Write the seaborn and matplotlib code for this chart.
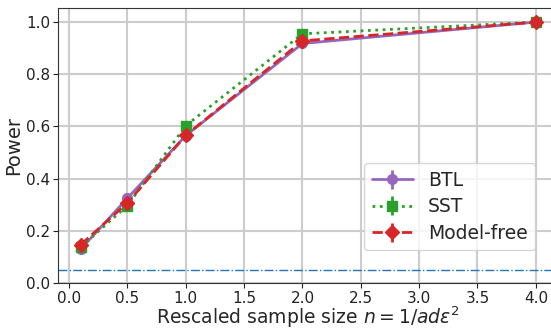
import matplotlib
matplotlib.use("Agg")
import matplotlib.pyplot as plt
import seaborn as sns
import numpy as np

x_vals = [0.1, 0.5, 1.0, 2.0, 4.0]
btl = [0.13, 0.325, 0.565, 0.918, 1.0]
sst = [0.138, 0.297, 0.603, 0.955, 1.0]
model_free = [0.147, 0.307, 0.566, 0.928, 1.0]
btl_err = [0.012, 0.015, 0.016, 0.009, 0.0]
sst_err = [0.012, 0.015, 0.016, 0.007, 0.0]
mf_err = [0.012, 0.015, 0.016, 0.008, 0.0]
alpha_level = 0.05

sns.set_style("ticks")
plt.rcParams['font.family'] = ['DejaVu Sans']

fig = plt.figure(figsize=(5.51, 3.29), dpi=100)
ax = fig.add_axes([58/551, 1-283/329, 500/551, 275/329])

pal = sns.color_palette("tab10")
ax.errorbar(x_vals, btl, yerr=btl_err, color=pal[4], marker='o', ls='-', lw=2,
            markersize=7, label='BTL')
ax.errorbar(x_vals, sst, yerr=sst_err, color=pal[2], marker='s', ls=':', lw=2,
            markersize=7, label='SST')
ax.errorbar(x_vals, model_free, yerr=mf_err, color=pal[3], marker='D', ls='--', lw=2,
            markersize=7, label='Model-free')
ax.axhline(alpha_level, color=pal[0], ls='-.', lw=1)

ax.set_xlim(-0.095, 4.19)
ax.set_ylim(0, 1.054)
ax.set_xticks(np.arange(0, 4.01, 0.5))
ax.set_yticks(np.arange(0, 1.01, 0.2))
ax.grid(True, color='#cccccc', lw=1.5)
ax.set_axisbelow(True)
for s in ax.spines.values():
    s.set_color('#333333')
ax.tick_params(labelsize=11, colors='#222222', pad=2)
ax.set_xlabel(r'Rescaled sample size $n = 1/ad\varepsilon^2$', fontsize=13.5, labelpad=-1)
ax.set_ylabel('Power', fontsize=14, labelpad=2)
ax.legend(loc='lower right', fontsize=13.5, bbox_to_anchor=(0.973, 0.085),
          labelspacing=0.4, handlelength=2.2)

fig.savefig('out.png', dpi=100)
